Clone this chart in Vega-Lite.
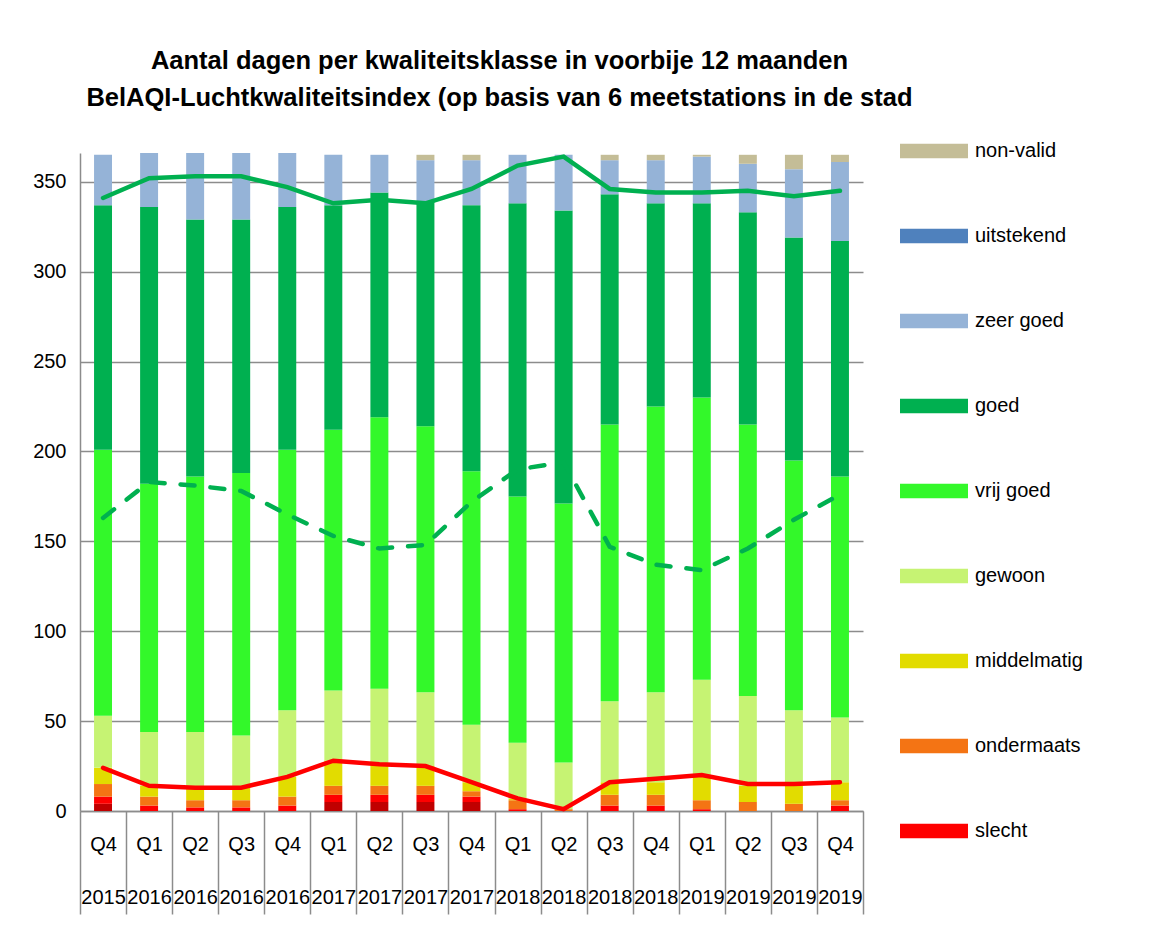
{
  "$schema": "https://vega.github.io/schema/vega-lite/v6.json",
  "width": 783,
  "height": 658,
  "autosize": "none",
  "padding": {"left": 80, "top": 153, "right": 292, "bottom": 117},
  "background": "white",
  "config": {
    "font": "Liberation Sans",
    "view": {"stroke": null},
    "axis": {"labelFont": "Liberation Sans", "labelColor": "#000000", "labelFontSize": 20, "domainColor": "#8c8c8c", "tickColor": "#8c8c8c", "gridColor": "#8c8c8c", "domainWidth": 1.5, "tickWidth": 1.5, "gridWidth": 1.5}
  },
  "title": {
    "text": ["Aantal dagen per kwaliteitsklasse in voorbije 12 maanden", "BelAQI-Luchtkwaliteitsindex (op basis van 6 meetstations in de stad"],
    "font": "Liberation Sans",
    "fontSize": 25.5,
    "fontWeight": "bold",
    "color": "#000000",
    "anchor": "middle",
    "dx": 28,
    "lineHeight": 37,
    "offset": 6
  },
  "datasets": {
    "bars": [
      {"q": "Q4 2015", "cls": "zeer slecht", "n": 4}, {"q": "Q4 2015", "cls": "slecht", "n": 4}, {"q": "Q4 2015", "cls": "ondermaats", "n": 7}, {"q": "Q4 2015", "cls": "middelmatig", "n": 9}, {"q": "Q4 2015", "cls": "gewoon", "n": 29}, {"q": "Q4 2015", "cls": "vrij goed", "n": 148}, {"q": "Q4 2015", "cls": "goed", "n": 136}, {"q": "Q4 2015", "cls": "zeer goed", "n": 28},
      {"q": "Q1 2016", "cls": "slecht", "n": 3}, {"q": "Q1 2016", "cls": "ondermaats", "n": 5}, {"q": "Q1 2016", "cls": "middelmatig", "n": 6}, {"q": "Q1 2016", "cls": "gewoon", "n": 30}, {"q": "Q1 2016", "cls": "vrij goed", "n": 138}, {"q": "Q1 2016", "cls": "goed", "n": 154}, {"q": "Q1 2016", "cls": "zeer goed", "n": 30},
      {"q": "Q2 2016", "cls": "slecht", "n": 2}, {"q": "Q2 2016", "cls": "ondermaats", "n": 4}, {"q": "Q2 2016", "cls": "middelmatig", "n": 7}, {"q": "Q2 2016", "cls": "gewoon", "n": 31}, {"q": "Q2 2016", "cls": "vrij goed", "n": 142}, {"q": "Q2 2016", "cls": "goed", "n": 143}, {"q": "Q2 2016", "cls": "zeer goed", "n": 37},
      {"q": "Q3 2016", "cls": "slecht", "n": 2}, {"q": "Q3 2016", "cls": "ondermaats", "n": 4}, {"q": "Q3 2016", "cls": "middelmatig", "n": 7}, {"q": "Q3 2016", "cls": "gewoon", "n": 29}, {"q": "Q3 2016", "cls": "vrij goed", "n": 146}, {"q": "Q3 2016", "cls": "goed", "n": 141}, {"q": "Q3 2016", "cls": "zeer goed", "n": 37},
      {"q": "Q4 2016", "cls": "slecht", "n": 3}, {"q": "Q4 2016", "cls": "ondermaats", "n": 5}, {"q": "Q4 2016", "cls": "middelmatig", "n": 11}, {"q": "Q4 2016", "cls": "gewoon", "n": 37}, {"q": "Q4 2016", "cls": "vrij goed", "n": 145}, {"q": "Q4 2016", "cls": "goed", "n": 135}, {"q": "Q4 2016", "cls": "zeer goed", "n": 30},
      {"q": "Q1 2017", "cls": "zeer slecht", "n": 5}, {"q": "Q1 2017", "cls": "slecht", "n": 4}, {"q": "Q1 2017", "cls": "ondermaats", "n": 5}, {"q": "Q1 2017", "cls": "middelmatig", "n": 14}, {"q": "Q1 2017", "cls": "gewoon", "n": 39}, {"q": "Q1 2017", "cls": "vrij goed", "n": 145}, {"q": "Q1 2017", "cls": "goed", "n": 125}, {"q": "Q1 2017", "cls": "zeer goed", "n": 28},
      {"q": "Q2 2017", "cls": "zeer slecht", "n": 5}, {"q": "Q2 2017", "cls": "slecht", "n": 4}, {"q": "Q2 2017", "cls": "ondermaats", "n": 5}, {"q": "Q2 2017", "cls": "middelmatig", "n": 12}, {"q": "Q2 2017", "cls": "gewoon", "n": 42}, {"q": "Q2 2017", "cls": "vrij goed", "n": 151}, {"q": "Q2 2017", "cls": "goed", "n": 125}, {"q": "Q2 2017", "cls": "zeer goed", "n": 21},
      {"q": "Q3 2017", "cls": "zeer slecht", "n": 5}, {"q": "Q3 2017", "cls": "slecht", "n": 4}, {"q": "Q3 2017", "cls": "ondermaats", "n": 5}, {"q": "Q3 2017", "cls": "middelmatig", "n": 11}, {"q": "Q3 2017", "cls": "gewoon", "n": 41}, {"q": "Q3 2017", "cls": "vrij goed", "n": 148}, {"q": "Q3 2017", "cls": "goed", "n": 125}, {"q": "Q3 2017", "cls": "zeer goed", "n": 23}, {"q": "Q3 2017", "cls": "non-valid", "n": 3},
      {"q": "Q4 2017", "cls": "zeer slecht", "n": 5}, {"q": "Q4 2017", "cls": "slecht", "n": 3}, {"q": "Q4 2017", "cls": "ondermaats", "n": 3}, {"q": "Q4 2017", "cls": "middelmatig", "n": 5}, {"q": "Q4 2017", "cls": "gewoon", "n": 32}, {"q": "Q4 2017", "cls": "vrij goed", "n": 141}, {"q": "Q4 2017", "cls": "goed", "n": 148}, {"q": "Q4 2017", "cls": "zeer goed", "n": 25}, {"q": "Q4 2017", "cls": "non-valid", "n": 3},
      {"q": "Q1 2018", "cls": "slecht", "n": 1}, {"q": "Q1 2018", "cls": "ondermaats", "n": 5}, {"q": "Q1 2018", "cls": "middelmatig", "n": 1}, {"q": "Q1 2018", "cls": "gewoon", "n": 31}, {"q": "Q1 2018", "cls": "vrij goed", "n": 137}, {"q": "Q1 2018", "cls": "goed", "n": 163}, {"q": "Q1 2018", "cls": "zeer goed", "n": 27},
      {"q": "Q2 2018", "cls": "ondermaats", "n": 1}, {"q": "Q2 2018", "cls": "gewoon", "n": 26}, {"q": "Q2 2018", "cls": "vrij goed", "n": 144}, {"q": "Q2 2018", "cls": "goed", "n": 163}, {"q": "Q2 2018", "cls": "zeer goed", "n": 31},
      {"q": "Q3 2018", "cls": "slecht", "n": 3}, {"q": "Q3 2018", "cls": "ondermaats", "n": 6}, {"q": "Q3 2018", "cls": "middelmatig", "n": 7}, {"q": "Q3 2018", "cls": "gewoon", "n": 45}, {"q": "Q3 2018", "cls": "vrij goed", "n": 154}, {"q": "Q3 2018", "cls": "goed", "n": 128}, {"q": "Q3 2018", "cls": "zeer goed", "n": 19}, {"q": "Q3 2018", "cls": "non-valid", "n": 3},
      {"q": "Q4 2018", "cls": "slecht", "n": 3}, {"q": "Q4 2018", "cls": "ondermaats", "n": 6}, {"q": "Q4 2018", "cls": "middelmatig", "n": 7}, {"q": "Q4 2018", "cls": "gewoon", "n": 50}, {"q": "Q4 2018", "cls": "vrij goed", "n": 159}, {"q": "Q4 2018", "cls": "goed", "n": 113}, {"q": "Q4 2018", "cls": "zeer goed", "n": 24}, {"q": "Q4 2018", "cls": "non-valid", "n": 3},
      {"q": "Q1 2019", "cls": "slecht", "n": 1}, {"q": "Q1 2019", "cls": "ondermaats", "n": 5}, {"q": "Q1 2019", "cls": "middelmatig", "n": 13}, {"q": "Q1 2019", "cls": "gewoon", "n": 54}, {"q": "Q1 2019", "cls": "vrij goed", "n": 157}, {"q": "Q1 2019", "cls": "goed", "n": 108}, {"q": "Q1 2019", "cls": "zeer goed", "n": 26}, {"q": "Q1 2019", "cls": "non-valid", "n": 1},
      {"q": "Q2 2019", "cls": "ondermaats", "n": 5}, {"q": "Q2 2019", "cls": "middelmatig", "n": 9}, {"q": "Q2 2019", "cls": "gewoon", "n": 50}, {"q": "Q2 2019", "cls": "vrij goed", "n": 151}, {"q": "Q2 2019", "cls": "goed", "n": 118}, {"q": "Q2 2019", "cls": "zeer goed", "n": 27}, {"q": "Q2 2019", "cls": "non-valid", "n": 5},
      {"q": "Q3 2019", "cls": "ondermaats", "n": 4}, {"q": "Q3 2019", "cls": "middelmatig", "n": 10}, {"q": "Q3 2019", "cls": "gewoon", "n": 42}, {"q": "Q3 2019", "cls": "vrij goed", "n": 139}, {"q": "Q3 2019", "cls": "goed", "n": 124}, {"q": "Q3 2019", "cls": "zeer goed", "n": 38}, {"q": "Q3 2019", "cls": "non-valid", "n": 8},
      {"q": "Q4 2019", "cls": "slecht", "n": 3}, {"q": "Q4 2019", "cls": "ondermaats", "n": 3}, {"q": "Q4 2019", "cls": "middelmatig", "n": 10}, {"q": "Q4 2019", "cls": "gewoon", "n": 36}, {"q": "Q4 2019", "cls": "vrij goed", "n": 134}, {"q": "Q4 2019", "cls": "goed", "n": 131}, {"q": "Q4 2019", "cls": "zeer goed", "n": 44}, {"q": "Q4 2019", "cls": "non-valid", "n": 4}
    ],
    "lines": [
      {"q": "Q4 2015", "s": "top", "v": 341}, {"q": "Q1 2016", "s": "top", "v": 352}, {"q": "Q2 2016", "s": "top", "v": 353}, {"q": "Q3 2016", "s": "top", "v": 353}, {"q": "Q4 2016", "s": "top", "v": 347}, {"q": "Q1 2017", "s": "top", "v": 338}, {"q": "Q2 2017", "s": "top", "v": 340}, {"q": "Q3 2017", "s": "top", "v": 338}, {"q": "Q4 2017", "s": "top", "v": 346}, {"q": "Q1 2018", "s": "top", "v": 359}, {"q": "Q2 2018", "s": "top", "v": 364}, {"q": "Q3 2018", "s": "top", "v": 346}, {"q": "Q4 2018", "s": "top", "v": 344}, {"q": "Q1 2019", "s": "top", "v": 344}, {"q": "Q2 2019", "s": "top", "v": 345}, {"q": "Q3 2019", "s": "top", "v": 342}, {"q": "Q4 2019", "s": "top", "v": 345},
      {"q": "Q4 2015", "s": "mid", "v": 163}, {"q": "Q1 2016", "s": "mid", "v": 183}, {"q": "Q2 2016", "s": "mid", "v": 181}, {"q": "Q3 2016", "s": "mid", "v": 178}, {"q": "Q4 2016", "s": "mid", "v": 165}, {"q": "Q1 2017", "s": "mid", "v": 153}, {"q": "Q2 2017", "s": "mid", "v": 146}, {"q": "Q3 2017", "s": "mid", "v": 148}, {"q": "Q4 2017", "s": "mid", "v": 172}, {"q": "Q1 2018", "s": "mid", "v": 190}, {"q": "Q2 2018", "s": "mid", "v": 194}, {"q": "Q3 2018", "s": "mid", "v": 147}, {"q": "Q4 2018", "s": "mid", "v": 137}, {"q": "Q1 2019", "s": "mid", "v": 134}, {"q": "Q2 2019", "s": "mid", "v": 146}, {"q": "Q3 2019", "s": "mid", "v": 162}, {"q": "Q4 2019", "s": "mid", "v": 176},
      {"q": "Q4 2015", "s": "low", "v": 24}, {"q": "Q1 2016", "s": "low", "v": 14}, {"q": "Q2 2016", "s": "low", "v": 13}, {"q": "Q3 2016", "s": "low", "v": 13}, {"q": "Q4 2016", "s": "low", "v": 19}, {"q": "Q1 2017", "s": "low", "v": 28}, {"q": "Q2 2017", "s": "low", "v": 26}, {"q": "Q3 2017", "s": "low", "v": 25}, {"q": "Q4 2017", "s": "low", "v": 16}, {"q": "Q1 2018", "s": "low", "v": 7}, {"q": "Q2 2018", "s": "low", "v": 1}, {"q": "Q3 2018", "s": "low", "v": 16}, {"q": "Q4 2018", "s": "low", "v": 18}, {"q": "Q1 2019", "s": "low", "v": 20}, {"q": "Q2 2019", "s": "low", "v": 15}, {"q": "Q3 2019", "s": "low", "v": 15}, {"q": "Q4 2019", "s": "low", "v": 16}
    ]
  },
  "encoding": {
    "x": {
      "field": "q", "type": "nominal", "sort": null, "title": null,
      "scale": {"paddingInner": 0, "paddingOuter": 0},
      "axis": {"labelAngle": 0, "tickBand": "extent", "tickSize": 103, "labelPadding": -80, "labelLineHeight": 53, "labelBaseline": "top", "labelExpr": "split(datum.label, ' ')", "labelFontSize": 20}
    }
  },
  "layer": [
    {
      "data": {"name": "bars"},
      "transform": [{"calculate": "indexof(['zeer slecht','slecht','ondermaats','middelmatig','gewoon','vrij goed','goed','zeer goed','uitstekend','non-valid'], datum.cls)", "as": "k"}],
      "mark": {"type": "bar", "width": {"band": 0.39}},
      "encoding": {
        "y": {"field": "n", "type": "quantitative", "stack": "zero", "title": null,
          "scale": {"domain": [0, 366], "nice": false},
          "axis": {"values": [0, 50, 100, 150, 200, 250, 300, 350], "ticks": false, "labelPadding": 14, "labelFontSize": 20}},
        "order": {"field": "k", "type": "quantitative"},
        "color": {
          "field": "cls", "type": "nominal", "title": null,
          "scale": {
            "domain": ["non-valid", "uitstekend", "zeer goed", "goed", "vrij goed", "gewoon", "middelmatig", "ondermaats", "slecht", "zeer slecht"],
            "range": ["#C4BD97", "#4F81BD", "#95B3D7", "#00B050", "#33F82A", "#C6F373", "#E2DC00", "#F47414", "#FF0000", "#C00000"]
          },
          "legend": {
            "values": ["non-valid", "uitstekend", "zeer goed", "goed", "vrij goed", "gewoon", "middelmatig", "ondermaats", "slecht"],
            "orient": "none", "legendX": 820, "legendY": -36, "padding": 0,
            "symbolType": "M-1,-0.21H1V0.21H-1Z", "symbolSize": 4624, "symbolStrokeWidth": 0, "symbolOpacity": 1,
            "labelFontSize": 20, "labelFont": "Liberation Sans", "labelColor": "#000000", "labelOffset": 7,
            "rowPadding": 41, "labelLimit": 200
          }
        }
      }
    },
    {
      "data": {"name": "lines"},
      "transform": [{"filter": "datum.s === 'top'"}],
      "mark": {"type": "line", "color": "#00B050", "strokeWidth": 4.5, "strokeCap": "round"},
      "encoding": {"y": {"field": "v", "type": "quantitative"}}
    },
    {
      "data": {"name": "lines"},
      "transform": [{"filter": "datum.s === 'mid'"}],
      "mark": {"type": "line", "color": "#00B050", "strokeWidth": 4.5, "strokeCap": "round", "strokeDash": [14, 16]},
      "encoding": {"y": {"field": "v", "type": "quantitative"}}
    },
    {
      "data": {"name": "lines"},
      "transform": [{"filter": "datum.s === 'low'"}],
      "mark": {"type": "line", "color": "#FF0000", "strokeWidth": 4.5, "strokeCap": "round"},
      "encoding": {"y": {"field": "v", "type": "quantitative"}}
    }
  ]
}
